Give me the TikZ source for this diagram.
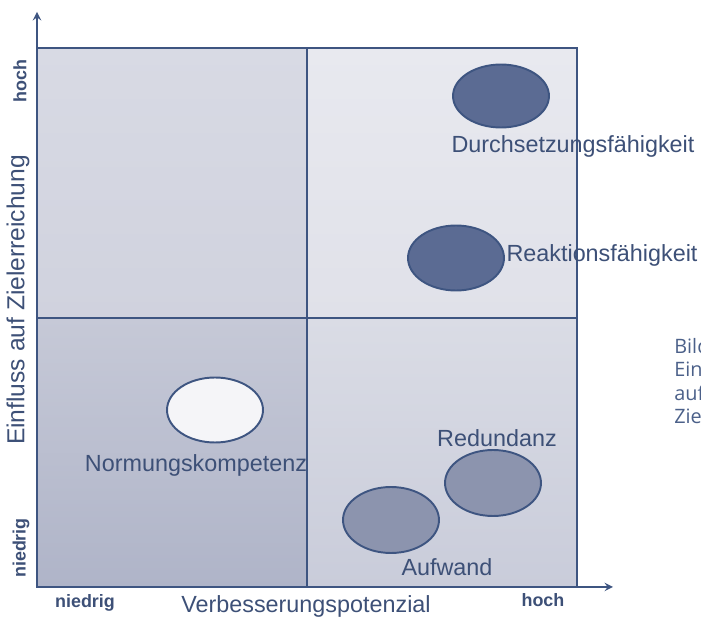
\documentclass[tikz,border=0pt]{standalone}
\usepackage{fontspec}
\setmainfont{Liberation Sans}
\newfontfamily\bildfont{Open Sans}
\usetikzlibrary{shapes.geometric}

\definecolor{linie}{HTML}{3E5581}
\definecolor{schrift}{HTML}{3D5077}
\definecolor{dunkel}{HTML}{5B6B93}
\definecolor{mittel}{HTML}{8C94AE}
\definecolor{hell}{HTML}{F5F5F8}
\definecolor{bildtext}{HTML}{4B6089}
% Quadranten
\definecolor{qlo}{HTML}{D8DAE4}
\definecolor{qlu}{HTML}{D0D2DE}
\definecolor{qro}{HTML}{E8E9EF}
\definecolor{qru}{HTML}{E0E1E9}
\definecolor{ulo}{HTML}{C6C9D7}
\definecolor{ulu}{HTML}{AFB4C8}
\definecolor{uro}{HTML}{DADCE5}
\definecolor{uru}{HTML}{C9CCDA}

\tikzset{
  rahmen/.style={draw=linie, line width=1.1pt},
  achse/.style={draw=linie, line width=1.1pt, ->, >=stealth},
  feld/.style={ellipse, draw=linie, line width=1.1pt, inner sep=0pt,
    minimum width=1.92cm, minimum height=1.26cm},
  beschr/.style={text=schrift, font=\fontsize{13.3}{16}\selectfont, inner sep=0pt},
  stufe/.style={text=schrift, font=\fontsize{10.2}{12}\selectfont\bfseries, inner sep=0pt},
  bild/.style={text=bildtext, font=\bildfont\fontsize{11.3}{13}\selectfont, anchor=west, inner sep=0pt}
}

\begin{document}
\begin{tikzpicture}[x=0.02cm,y=-0.02cm]
\useasboundingbox (0,0) rectangle (701,618);

% vier Quadranten
\fill[top color=qlo, bottom color=qlu] (37,48) rectangle (307,318);
\fill[top color=qro, bottom color=qru] (307,48) rectangle (577,318);
\fill[top color=ulo, bottom color=ulu] (37,318) rectangle (307,587);
\fill[top color=uro, bottom color=uru] (307,318) rectangle (577,587);

\draw[rahmen] (37,48) rectangle (577,587);
\draw[rahmen] (307,48) -- (307,587);
\draw[rahmen] (37,318) -- (577,318);

% Achsen
\coordinate (o) at (37,587);
\coordinate (ytip) at (37,12);
\coordinate (xtip) at (613,587);
\draw[achse] (o) -- (ytip);
\draw[achse] (o) -- (xtip);

\node[beschr, font=\fontsize{14}{16}\selectfont, rotate=90] (ylab) at (18,300) {Einfluss auf Zielerreichung};
\node[beschr] (xlab) at (306,606) {Verbesserungspotenzial};
\node[stufe, rotate=90] (yhoch) at (20,81) {hoch};
\node[stufe, rotate=90] (ynied) at (21,548) {niedrig};
\node[stufe] (xnied) at (85,603) {niedrig};
\node[stufe] (xhoch) at (543,600) {hoch};

% Faktoren
\node[feld, fill=dunkel] (durch) at (501,96) {};
\node[beschr] (durchlab) at (573,146) {Durchsetzungsfähigkeit};

\node[feld, fill=dunkel, minimum height=1.3cm] (reakt) at (456,258) {};
\node[beschr] (reaktlab) at (602,255) {Reaktionsfähigkeit};

\node[feld, fill=hell, minimum height=1.3cm] (norm) at (215,410) {};
\node[beschr] (normlab) at (196,465) {Normungskompetenz};

\node[feld, fill=mittel, minimum height=1.32cm] (redund) at (493,483) {};
\node[beschr] (redundlab) at (497,438) {Redundanz};

\node[feld, fill=mittel, minimum height=1.32cm] (aufw) at (391,520) {};
\node[beschr] (aufwlab) at (447,567) {Aufwand};

% Bildunterschrift (am Rand abgeschnitten)
\node[bild] (b1) at (674,346) {Bild};
\node[bild] (b2) at (674,369) {Ein};
\node[bild] (b3) at (674,393) {auf};
\node[bild] (b4) at (674,416) {Ziel};
\end{tikzpicture}
\end{document}
